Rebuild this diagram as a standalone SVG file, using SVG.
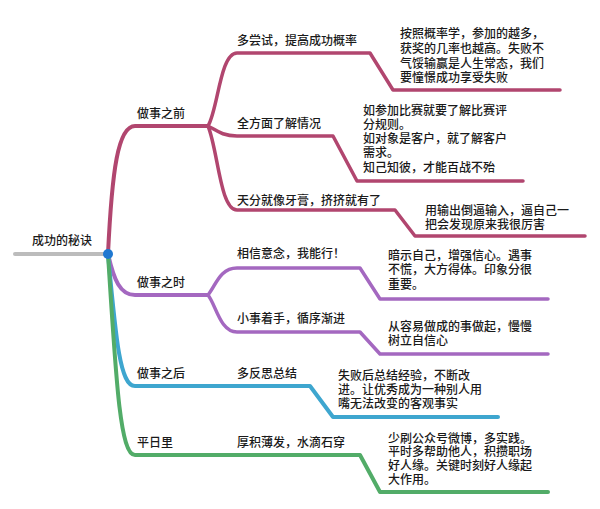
<svg xmlns="http://www.w3.org/2000/svg" width="600" height="509" viewBox="0 0 600 509">
<style>
text{font-family:"Noto Sans CJK SC","Noto Sans",sans-serif;font-size:12px;font-weight:500;fill:#1a1a1a;}
.br{fill:none;stroke-width:4;stroke-linecap:round;stroke-linejoin:round;}
.sb{fill:none;stroke-width:3.5;stroke-linecap:round;stroke-linejoin:round;}
.c1{stroke:#b1466f}.c2{stroke:#a468c0}.c3{stroke:#3ea6cf}.c4{stroke:#52ac68}
</style>
<rect width="600" height="509" fill="#ffffff"/>
<g id="connectors">
<path class="br" d="M15,254 H108" stroke="#bcbcbc"/>
<path class="br c1" d="M108,254 C112,170 118,126 135,126 H208"/>
<path class="br c2" d="M108,254 C114,280 120,295 135,295 H208"/>
<path class="br c3" d="M108,254 C116,340 120,386 135,386 H310 L333,417 H498"/>
<path class="br c4" d="M108,254 C116,380 120,455 135,455 H360 L380,492 H548"/>
<path class="sb c1" d="M208,126 C218,110 220,53 237,53 H370 L393,90 H560"/>
<path class="sb c1" d="M208,126 C216,130 222,136 237,136 H333 L357,181 H523"/>
<path class="sb c1" d="M208,126 C218,150 220,210 237,210 H395 L415,236 H585"/>
<path class="sb c2" d="M208,295 C216,285 220,268 237,268 H360 L380,299 H548"/>
<path class="sb c2" d="M208,295 C216,305 220,332 237,332 H360 L380,354 H548"/>
</g>
<g id="root"><text x="32" y="245">成功的秘诀</text><circle cx="108" cy="254" r="5" fill="#1f78d1"/></g>
<g id="n-before"><text x="137" y="118">做事之前</text></g>
<g id="n-during"><text x="137" y="287">做事之时</text></g>
<g id="n-after"><text x="137" y="378">做事之后</text></g>
<g id="n-daily"><text x="137" y="447">平日里</text></g>
<g id="n-b1"><text x="237" y="45">多尝试，提高成功概率</text></g>
<g id="n-b2"><text x="237" y="128">全方面了解情况</text></g>
<g id="n-b3"><text x="237" y="205">天分就像牙膏，挤挤就有了</text></g>
<g id="n-d1"><text x="237" y="258">相信意念，我能行！</text></g>
<g id="n-d2"><text x="237" y="323">小事着手，循序渐进</text></g>
<g id="n-a1"><text x="237" y="378">多反思总结</text></g>
<g id="n-p1"><text x="237" y="447">厚积薄发，水滴石穿</text></g>
<g id="t-b1"><text x="400" y="38"><tspan x="400">按照概率学，参加的越多，</tspan><tspan x="400" dy="14.8">获奖的几率也越高。失败不</tspan><tspan x="400" dy="14.8">气馁输赢是人生常态，我们</tspan><tspan x="400" dy="14.8">要憧憬成功享受失败</tspan></text></g>
<g id="t-b2"><text x="363" y="114.5"><tspan x="363">如参加比赛就要了解比赛评</tspan><tspan x="363" dy="14.3">分规则。</tspan><tspan x="363" dy="14.3">如对象是客户，就了解客户</tspan><tspan x="363" dy="14.3">需求。</tspan><tspan x="363" dy="14.3">知己知彼，才能百战不殆</tspan></text></g>
<g id="t-b3"><text x="425" y="214.5"><tspan x="425">用输出倒逼输入，逼自己一</tspan><tspan x="425" dy="14">把会发现原来我很厉害</tspan></text></g>
<g id="t-d1"><text x="388" y="259.5"><tspan x="388">暗示自己，增强信心。遇事</tspan><tspan x="388" dy="14.5">不慌，大方得体。印象分很</tspan><tspan x="388" dy="14.5">重要。</tspan></text></g>
<g id="t-d2"><text x="388" y="331"><tspan x="388">从容易做成的事做起，慢慢</tspan><tspan x="388" dy="14">树立自信心</tspan></text></g>
<g id="t-a1"><text x="338" y="379.5"><tspan x="338">失败后总结经验，不断改</tspan><tspan x="338" dy="14.3">进。让优秀成为一种别人用</tspan><tspan x="338" dy="14.3">嘴无法改变的客观事实</tspan></text></g>
<g id="t-p1"><text x="388" y="442.5"><tspan x="388">少刷公众号微博，多实践。</tspan><tspan x="388" dy="13.9">平时多帮助他人，积攒职场</tspan><tspan x="388" dy="13.9">好人缘。关键时刻好人缘起</tspan><tspan x="388" dy="13.9">大作用。</tspan></text></g>
</svg>
